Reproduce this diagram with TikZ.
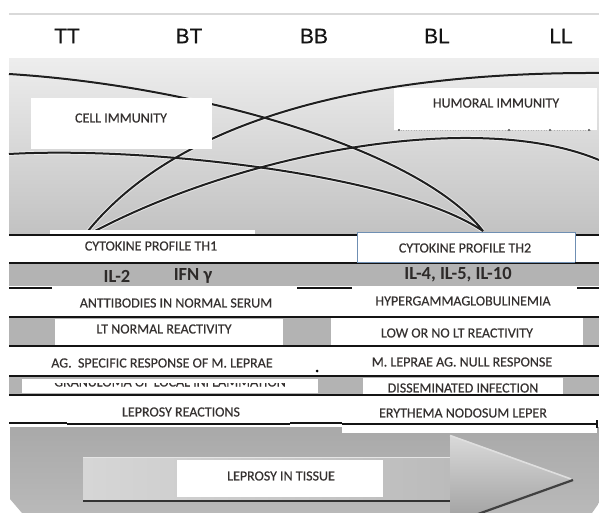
\documentclass[tikz,border=0pt]{standalone}
\usepackage{fontspec}
\setmainfont{Carlito}
\newfontfamily\lblfont{Carlito}[FakeBold=0.35]
\newfontfamily\stagefont{Liberation Sans}[FakeBold=0.3]
\definecolor{txt}{HTML}{353130}
\definecolor{paneltop}{HTML}{EDEDED}
\definecolor{panelbot}{HTML}{C2C2C2}
\definecolor{band}{HTML}{B3B3B3}
\definecolor{bottomA}{HTML}{A9A9A9}
\definecolor{bottomB}{HTML}{B9B9B9}
\definecolor{arrowfill}{HTML}{BBBBBB}
\definecolor{th2edge}{HTML}{6F8FB3}
\tikzset{
  stage/.style={font=\stagefont\fontsize{21}{24}\selectfont, text=black!92, inner sep=0pt},
  lbl/.style={font=\lblfont\fontsize{14}{16}\selectfont, text=txt, inner sep=0pt},
  ilbl/.style={font=\bfseries\fontsize{18.5}{20}\selectfont, text=txt!85!black, inner sep=0pt},
  halo/.style={draw=white!85!gray, line width=3.8pt},
  curveline/.style={draw=black!88, line width=2pt},
  heavybar/.style={draw=black!92, line width=2.6pt},
  thinbar/.style={draw=black!92, line width=1.3pt},
  wbox/.style={fill=white, draw=none},
}
\begin{document}
\begin{tikzpicture}[x=1pt,y=-1pt]
\useasboundingbox (0,0) rectangle (599,513);
\fill[white] (0,0) rectangle (599,513);
% top rule and stage labels
\draw[draw=gray!30, line width=1.4pt] (9,14) -- (599,14);
\node[stage] (tt) at (67,36) {TT};
\node[stage] (bt) at (189,36) {BT};
\node[stage] (bb) at (314,36) {BB};
\node[stage] (bl) at (437,36) {BL};
\node[stage] (ll) at (561,36) {LL};
% upper panel
\shade[top color=paneltop, bottom color=panelbot] (9,59) rectangle (599,234);
\coordinate (aL) at (9,74);
\coordinate (bL) at (9,154);
\coordinate (cR) at (599,73);
\coordinate (dR) at (599,160);
\coordinate (th1a) at (88,231);
\coordinate (th1b) at (95,231);
\coordinate (th2a) at (483,231);
\foreach \s in {halo,curveline}{
  \draw[\s] (aL) .. controls (200,86) and (420,150) .. (th2a);
  \draw[\s] (bL) .. controls (150,146) and (400,175) .. (th2a);
  \draw[\s] (th1a) .. controls (170,130) and (340,72) .. (cR);
  \draw[\s] (th1b) .. controls (250,150) and (480,110) .. (dR);
}
\fill[wbox] (31,98) rectangle (212,149);
\node[lbl] (cell) at (121,118) {CELL IMMUNITY};
\fill[wbox] (394,88) rectangle (597,130);
\node[lbl] (humoral) at (496,103) {HUMORAL IMMUNITY};
\draw[gray!60, dotted, line width=0.6pt] (398,130) -- (592,130);
\foreach \x in {399,509,550,589} \fill[black!70] (\x,130) circle (1.1);
% grey bands
\fill[band] (9,264) rectangle (599,286);
\fill[band] (9,318) rectangle (599,345);
\fill[band] (9,377) rectangle (599,394);
% white boxes
\fill[wbox] (50,230) rectangle (255,261);
\fill[wbox] (55,319) rectangle (283,345);
\fill[wbox] (331,318) rectangle (583,345);
\fill[wbox] (22,379) rectangle (318,393);
\fill[wbox] (363,378) rectangle (563,394);
% bars
\draw[thinbar] (9,235) -- (599,235);
\draw[heavybar] (9,235) -- (50,235);
\draw[heavybar] (255,235) -- (357,235);
\draw[heavybar] (575,235) -- (599,235);
\filldraw[fill=white, draw=th2edge, line width=0.9pt] (357,232) rectangle (575,262);
\draw[heavybar] (9,263) -- (357,263);
\draw[heavybar] (575,263) -- (599,263);
\draw[thinbar] (357,263.5) -- (575,263.5);
\draw[heavybar] (9,288) -- (52,288);
\draw[heavybar] (297,288) -- (352,288);
\draw[heavybar] (577,288) -- (599,288);
\draw[thinbar] (9,317) -- (599,317);
\draw[heavybar] (9,317) -- (55,317);
\draw[heavybar] (9,346) -- (599,346);
\draw[heavybar] (9,376) -- (599,376);
\draw[thinbar] (9,395) -- (599,395);
% texts
\node[lbl] (th1) at (151,246) {CYTOKINE PROFILE TH1};
\node[lbl] (th2) at (465,248) {CYTOKINE PROFILE TH2};
\node[ilbl] (il2) at (117,276) {IL-2};
\node[ilbl] (ifn) at (193,276) {IFN γ};
\node[ilbl] (il4) at (458,275) {IL-4, IL-5, IL-10};
\node[lbl] (anti) at (176,303) {ANTTIBODIES IN NORMAL SERUM};
\node[lbl] (hyper) at (463,301) {HYPERGAMMAGLOBULINEMIA};
\node[lbl] (ltn) at (164,329) {LT NORMAL REACTIVITY};
\node[lbl] (low) at (457,333) {LOW OR NO LT REACTIVITY};
\node[lbl] (ag) at (162,363) {AG.\ \ SPECIFIC RESPONSE OF M. LEPRAE};
\node[lbl] (null) at (462,362) {M. LEPRAE AG. NULL RESPONSE};
\fill[black] (317,371) circle (1.5);
\begin{scope}
  \clip (22,383.5) rectangle (318,393);
  \node[lbl, anchor=base] (gran) at (170,386.5) {GRANULOMA OF LOCAL INFLAMMATION};
\end{scope}
\node[lbl] (diss) at (463,388) {DISSEMINATED INFECTION};
\node[lbl] (react) at (181,412) {LEPROSY REACTIONS};
\node[lbl] (eryth) at (463,413) {ERYTHEMA NODOSUM LEPER};
% bottom panel
\shade[top color=bottomA, bottom color=bottomB] (10,427) -- (599,427) -- (599,503) -- (592,513) -- (22,513) -- (10,499) -- cycle;
\draw[heavybar] (9,423) -- (67,423);
\draw[thinbar] (67,424) -- (290,424);
\draw[heavybar] (290,423) -- (342,423);
\fill[white] (342,425) rectangle (597,433);
\draw[thinbar] (342,424) -- (597,424);
\draw[thinbar] (597,420) -- (597,428);
\begin{scope}
  \clip (10,427) rectangle (599,513);
  \shade[left color=arrowfill!60!white, right color=arrowfill] (83,457) -- (450,457) -- (450,500) -- (83,500) -- cycle;
  \shade[top color=arrowfill!55!white, bottom color=arrowfill!85!black] (450,435) -- (573,479) -- (450,523) -- cycle;
  \draw[white!80!gray, line width=1.6pt] (83,457.5) -- (450,457.5);
  \draw[white!75!gray, line width=1.6pt] (450,435.5) -- (571,479);
  \draw[black!80, line width=2pt] (83,501) -- (450,501);
  \draw[black!75, line width=2.2pt] (573,480) -- (478,514);
\end{scope}
\fill[wbox] (177,460) rectangle (383,497);
\node[lbl] (tissue) at (281,476) {LEPROSY IN TISSUE};
\end{tikzpicture}
\end{document}
